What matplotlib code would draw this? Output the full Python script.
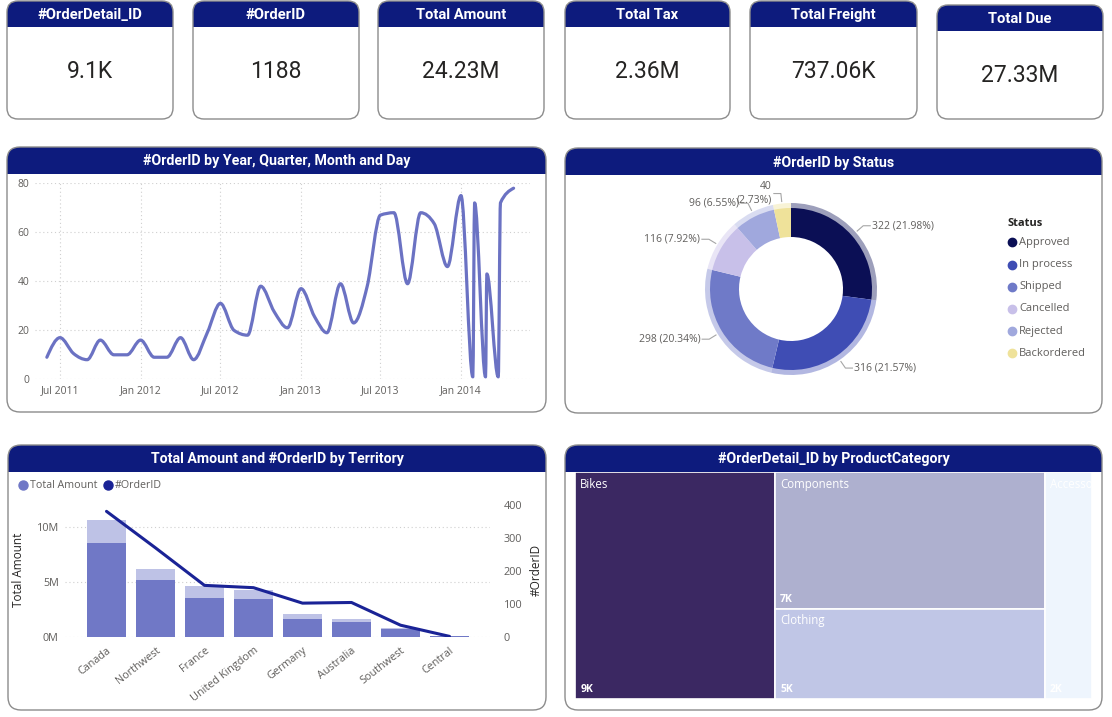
import matplotlib
matplotlib.use('Agg')
import matplotlib.pyplot as plt
import matplotlib.dates as mdates
from matplotlib.patches import FancyBboxPatch, Rectangle, PathPatch
from matplotlib.path import Path
from matplotlib.ticker import FuncFormatter, MultipleLocator
import numpy as np
import pandas as pd

# ---- data ----
kpi_titles = ['#OrderDetail_ID', '#OrderID', 'Total Amount', 'Total Tax', 'Total Freight', 'Total Due']
kpi_values = ['9.1K', '1188', '24.23M', '2.36M', '737.06K', '27.33M']

order_dates = ['2011-06-01', '2011-07-01', '2011-08-01', '2011-09-01', '2011-10-01', '2011-11-01',
               '2011-12-01', '2012-01-01', '2012-02-01', '2012-03-01', '2012-04-01', '2012-05-01',
               '2012-06-01', '2012-07-01', '2012-08-01', '2012-09-01', '2012-10-01', '2012-11-01',
               '2012-12-01', '2013-01-01', '2013-02-01', '2013-03-01', '2013-04-01', '2013-05-01',
               '2013-06-01', '2013-07-01', '2013-08-01', '2013-09-01', '2013-10-01', '2013-11-01',
               '2013-12-01', '2014-01-01', '2014-01-28', '2014-02-01', '2014-02-26', '2014-03-01',
               '2014-03-27', '2014-04-01', '2014-05-01']
order_counts = [9, 17, 10.5, 8, 16, 10, 10, 16, 9, 9, 17, 8,
                19, 31, 20, 18, 38, 27.5, 21, 37, 25.5, 19, 39, 23,
                38, 67, 68, 39, 68, 63.5, 46, 75, 1, 72, 1, 43,
                1, 72, 78]

status_names = ['Approved', 'In process', 'Shipped', 'Cancelled', 'Rejected', 'Backordered']
status_counts = [322, 316, 298, 116, 96, 40]
status_pcts = [21.98, 21.57, 20.34, 7.92, 6.55, 2.73]
status_colors = ['#0B0F55', '#3F4DB4', '#6F7AC8', '#C8C0E9', '#A0A8DD', '#EFE29A']

territories = ['Canada', 'Northwest', 'France', 'United Kingdom', 'Germany', 'Australia', 'Southwest', 'Central']
amount_total = [10.6, 6.15, 4.6, 4.28, 2.05, 1.6, 0.78, 0.1]        # millions
amount_highlight = [8.5, 5.12, 3.55, 3.4, 1.6, 1.33, 0.72, 0.04]   # millions
territory_orders = [381, 270, 156, 149, 102, 104, 35, 1]

categories = ['Bikes', 'Components', 'Clothing', 'Accessories']
detail_counts = [9.0, 7.3, 4.85, 2.1]   # thousands
category_colors = ['#3B2862', '#AEB0CF', '#C0C6E6', '#EEF5FD']

# ---- style ----
NAVY = '#0D1B7D'
GREY_TXT = '#605E5C'
DARK_TXT = '#252423'
BORDER = '#8C8C8C'
HEAD_FONT = 'Roboto'
BODY_FONT = 'Open Sans'

W, H = 1112, 717
fig = plt.figure(figsize=(W / 100, H / 100), dpi=100)
fig.patch.set_facecolor('white')

bg = fig.add_axes([0, 0, 1, 1])
bg.set_xlim(0, W)
bg.set_ylim(H, 0)
bg.axis('off')


def px_axes(x0, y0, x1, y1):
    return fig.add_axes([x0 / W, 1 - y1 / H, (x1 - x0) / W, (y1 - y0) / H])


def card(x0, y0, x1, y1, head_h, title, rad, size=10.2):
    body = FancyBboxPatch((x0, y0), x1 - x0, y1 - y0,
                          boxstyle=f'round,pad=0,rounding_size={rad}',
                          facecolor='white', edgecolor='none', zorder=1)
    bg.add_patch(body)
    head = Rectangle((x0, y0), x1 - x0, head_h, facecolor=NAVY, edgecolor='none', zorder=2)
    bg.add_patch(head)
    head.set_clip_path(body)
    edge = FancyBboxPatch((x0, y0), x1 - x0, y1 - y0,
                          boxstyle=f'round,pad=0,rounding_size={rad}',
                          facecolor='none', edgecolor=BORDER, lw=1.0, zorder=3)
    bg.add_patch(edge)
    bg.text((x0 + x1) / 2, y0 + head_h / 2 + 1, title, color='white', ha='center', va='center',
            fontsize=size, fontweight='bold', family=HEAD_FONT, zorder=4)


# ---- KPI cards ----
card_x0 = [7, 193, 378, 565, 750, 937]
card_x1 = [173, 359, 544, 730, 917, 1103]
card_top = [1, 1, 1, 1, 1, 5]
for x0, x1, t, title, val in zip(card_x0, card_x1, card_top, kpi_titles, kpi_values):
    card(x0, t, x1, 119, 26, title, 11, size=10.6)
    bg.text((x0 + x1) / 2, t + 70, val, ha='center', va='center', fontsize=16.5,
            family=HEAD_FONT, color=DARK_TXT, zorder=4)

# ---- panels ----
card(7, 147, 546, 412, 27, '#OrderID by Year, Quarter, Month and Day', 13)
card(565, 148, 1102, 413, 27, '#OrderID by Status', 13)
card(8, 445, 546, 710, 27, 'Total Amount and #OrderID by Territory', 13)
card(565, 445, 1102, 710, 27, '#OrderDetail_ID by ProductCategory', 13)

# ---- line chart ----
ax1 = px_axes(35, 183.3, 530, 379.3)
ax1.patch.set_alpha(0)
d = mdates.date2num(pd.to_datetime(order_dates))
y = np.array(order_counts, dtype=float)

# monotone cubic (like Power BI's smooth line) as bezier segments
h = np.diff(d)
s = np.diff(y) / h
m = np.zeros_like(y)
for i in range(1, len(y) - 1):
    if s[i - 1] * s[i] > 0:
        p = (s[i - 1] * h[i] + s[i] * h[i - 1]) / (h[i - 1] + h[i])
        m[i] = np.sign(s[i - 1]) * min(2 * abs(s[i - 1]), 2 * abs(s[i]), abs(p))
m[0] = (3 * s[0] - m[1]) / 2
m[-1] = (3 * s[-1] - m[-2]) / 2
verts = [(d[0], y[0])]
codes = [Path.MOVETO]
for i in range(len(y) - 1):
    dx = h[i] / 3
    verts += [(d[i] + dx, y[i] + m[i] * dx), (d[i + 1] - dx, y[i + 1] - m[i + 1] * dx), (d[i + 1], y[i + 1])]
    codes += [Path.CURVE4] * 3
ax1.add_patch(PathPatch(Path(verts, codes), fill=False, edgecolor='#6B72C3', lw=2.3,
                        capstyle='round', joinstyle='round', clip_on=False))

ref0 = mdates.date2num(pd.Timestamp('2011-07-01'))
ref1 = mdates.date2num(pd.Timestamp('2014-01-01'))
ppd = (461 - 60) / (ref1 - ref0)
ax1.set_xlim(ref0 - (60 - 35) / ppd, ref0 + (530 - 60) / ppd)
ax1.set_ylim(0, 80)
ax1.yaxis.set_major_locator(MultipleLocator(20))
ax1.xaxis.set_major_locator(mdates.MonthLocator(bymonth=[1, 7]))
ax1.xaxis.set_major_formatter(mdates.DateFormatter('%b %Y'))
ax1.grid(True, linestyle=(0, (1, 2.5)), color='#CFCFCF', lw=0.8)
ax1.set_axisbelow(True)
for sp in ax1.spines.values():
    sp.set_visible(False)
ax1.tick_params(length=0, labelsize=7.5, labelcolor=GREY_TXT, pad=4)
for lab in ax1.get_xticklabels() + ax1.get_yticklabels():
    lab.set_family(BODY_FONT)

# ---- donut ----
cx, cy = 791, 289
ax2 = px_axes(cx - 100, cy - 100, cx + 100, cy + 100)
ax2.pie(status_counts, radius=86, startangle=90, counterclock=False,
        colors=status_colors, wedgeprops=dict(width=6, edgecolor='none', alpha=0.4))
wedges, _ = ax2.pie(status_counts, radius=81, startangle=90, counterclock=False,
                    colors=status_colors, wedgeprops=dict(width=29, edgecolor='none'))
ax2.set_xlim(-100, 100)
ax2.set_ylim(-100, 100)
ax2.axis('off')
for w, c, p in zip(wedges, status_counts, status_pcts):
    ang = np.deg2rad((w.theta1 + w.theta2) / 2)
    ca, sa = np.cos(ang), np.sin(ang)
    side = 1 if ca >= 0 else -1
    p1 = (88 * ca, 88 * sa)
    p2 = (96 * ca, 96 * sa)
    p3 = (p2[0] + side * 7, p2[1])
    ax2.plot([p1[0], p2[0], p3[0]], [p1[1], p2[1], p3[1]], color='#A6A6A6', lw=0.8, clip_on=False)
    label = f'{c} ({p:.2f}%)'
    if abs(ca) < 0.2:
        label = f'{c}\n({p:.2f}%)'
    ax2.text(p3[0] + side * 2, p3[1], label, ha='left' if side > 0 else 'right', va='center',
             fontsize=7.5, color=GREY_TXT, family=BODY_FONT, clip_on=False,
             multialignment='right', linespacing=1.3)

bg.text(1007, 224, 'Status', fontsize=8, fontweight='bold', color=DARK_TXT, family=BODY_FONT,
        va='center', zorder=5)
for i, (name, col) in enumerate(zip(status_names, status_colors)):
    yy = 242.3 + i * 22.2
    bg.plot(1012.4, yy, 'o', ms=6, color=col, zorder=5)
    bg.text(1019, yy, name, fontsize=8, color=GREY_TXT, family=BODY_FONT, va='center', zorder=5)

# ---- combo chart ----
ax3 = px_axes(65, 500, 490, 636.7)
ax3.patch.set_alpha(0)
xs = np.arange(len(territories))
ax3.bar(xs, np.array(amount_total) * 1e6, width=0.78, color='#BEC2E6', zorder=2)
ax3.bar(xs, np.array(amount_highlight) * 1e6, width=0.78, color='#7078C6', zorder=3)
ax3.set_xlim(-(106.5 - 65) / 49, (490 - 106.5) / 49)
ax3.set_ylim(0, 12.43e6)
ax3.set_yticks([0, 5e6, 10e6])
ax3.yaxis.set_major_formatter(FuncFormatter(lambda v, _: f'{v / 1e6:.0f}M'))
ax3.grid(True, axis='y', linestyle=(0, (1, 2.5)), color='#CFCFCF', lw=0.8)
ax3.set_axisbelow(True)
ax3.set_xticks(xs)
ax3.set_xticklabels(territories, rotation=38, ha='right', rotation_mode='anchor')
for sp in ax3.spines.values():
    sp.set_visible(False)
ax3.tick_params(length=0, labelsize=7.8, labelcolor=GREY_TXT)
ax3.tick_params(axis='y', pad=4.5)
ax3.tick_params(axis='x', pad=6)
ax3.set_ylabel('Total Amount', fontsize=8.5, color=DARK_TXT, family=BODY_FONT)
ax3.yaxis.set_label_coords(-0.094, 0.49)

ax3b = ax3.twinx()
ax3b.plot(xs, territory_orders, color='#1A2396', lw=2.2, zorder=4, solid_capstyle='round')
ax3b.set_ylim(0, 415.5)
ax3b.set_yticks([0, 100, 200, 300, 400])
for sp in ax3b.spines.values():
    sp.set_visible(False)
ax3b.tick_params(length=0, labelsize=7.8, labelcolor=GREY_TXT, pad=10)
ax3b.set_ylabel('#OrderID', fontsize=8.5, color=DARK_TXT, family=BODY_FONT)
ax3b.yaxis.set_label_coords(1.094, 0.49)
for lab in (ax3.get_xticklabels() + ax3.get_yticklabels() + ax3b.get_yticklabels()):
    lab.set_family(BODY_FONT)

bg.plot(23.3, 485, 'o', ms=6.5, color='#7078C6', zorder=5)
bg.text(29.5, 485, 'Total Amount', fontsize=7.7, color=GREY_TXT, family=BODY_FONT, va='center', zorder=5)
bg.plot(108.3, 485, 'o', ms=6.5, color='#1A2396', zorder=5)
bg.text(114.5, 485, '#OrderID', fontsize=7.7, color=GREY_TXT, family=BODY_FONT, va='center', zorder=5)

# ---- treemap ----
ax4 = px_axes(575.5, 472.3, 1091.5, 699.3)
ax4.set_xlim(0, 1)
ax4.set_ylim(1, 0)
ax4.axis('off')
total = sum(detail_counts)
w_bikes = detail_counts[0] / total
w_mid = (detail_counts[1] + detail_counts[2]) / total
h_comp = detail_counts[1] / (detail_counts[1] + detail_counts[2])
rects = [(0, 0, w_bikes, 1),
         (w_bikes, 0, w_mid, h_comp),
         (w_bikes, h_comp, w_mid, 1 - h_comp),
         (w_bikes + w_mid, 0, 1 - w_bikes - w_mid, 1)]
for (rx, ry, rw, rh), name, val, col in zip(rects, categories, detail_counts, category_colors):
    r = Rectangle((rx, ry), rw, rh, facecolor=col, edgecolor='white', lw=1.2)
    ax4.add_patch(r)
    t1 = ax4.annotate(name, (rx, ry), xytext=(3.5, -4), textcoords='offset points',
                      ha='left', va='top', fontsize=8.3, color='white', family=BODY_FONT)
    t2 = ax4.annotate(f'{val:.0f}K', (rx, ry + rh), xytext=(3.5, 3), textcoords='offset points',
                      ha='left', va='bottom', fontsize=7.5, color='white', fontweight='bold',
                      family=BODY_FONT)
    for t in (t1, t2):
        t.set_clip_path(r)

fig.savefig('out.png', dpi=100)
